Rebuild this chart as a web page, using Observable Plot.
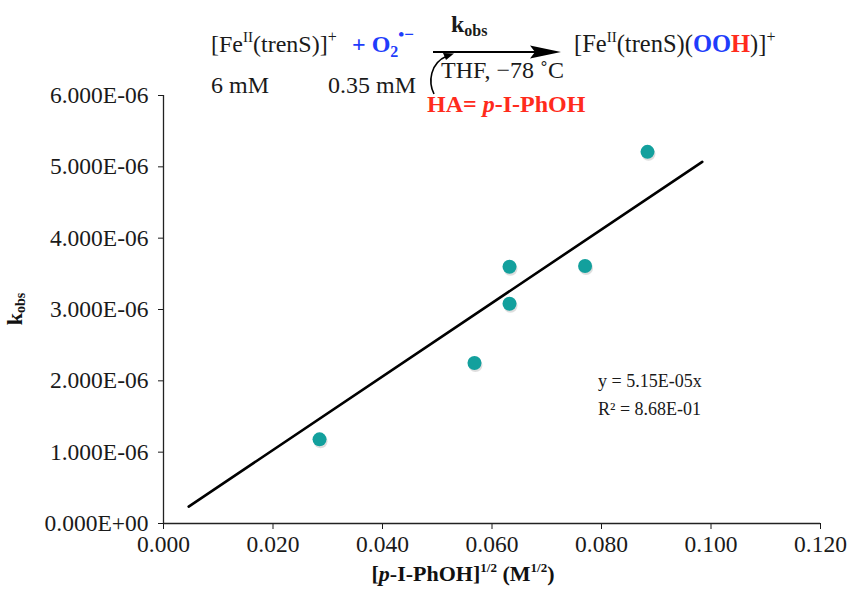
<!DOCTYPE html>
<html>
<head>
<meta charset="utf-8">
<script src="https://cdn.jsdelivr.net/npm/d3@7"></script>
<script src="https://cdn.jsdelivr.net/npm/@observablehq/plot@0.6"></script>
<style>
  html, body { margin: 0; padding: 0; background: #fff; }
  #chart { width: 850px; height: 610px; }
  svg text { font-family: "Liberation Serif", "Times New Roman", serif; }
</style>
</head>
<body>
<div id="chart"></div>
<script>
// ---- data ----
const sqrtConc = [0.0285, 0.0568, 0.0632, 0.0632, 0.0770, 0.0884];   // [p-I-PhOH]^1/2 (M^1/2)
const kObs     = [1.18e-6, 2.25e-6, 3.60e-6, 3.08e-6, 3.61e-6, 5.21e-6];
const trendX   = [0.0046, 0.0984];
const trendY   = [2.37e-7, 5.07e-6];
const xTicks   = [0, 0.02, 0.04, 0.06, 0.08, 0.10, 0.12];
const yTicks   = [0, 1e-6, 2e-6, 3e-6, 4e-6, 5e-6, 6e-6];
const eqLines  = ["y = 5.15E-05x", "R\u00B2 = 8.68E-01"];

const points = sqrtConc.map((x, i) => ({x, y: kObs[i]}));
const trend  = trendX.map((x, i) => ({x, y: trendY[i]}));

function sci(v) {
  if (Math.abs(v) < 1e-20) return "0.000E+00";
  const e = Math.floor(Math.log10(Math.abs(v)) + 1e-9);
  const m = v / Math.pow(10, e);
  return m.toFixed(3) + "E" + (e < 0 ? "-" : "+") + String(Math.abs(e)).padStart(2, "0");
}

const teal = "#13a09d";
const chart = Plot.plot({
  width: 850,
  height: 610,
  marginLeft: 163,
  marginRight: 30,
  marginTop: 95,
  marginBottom: 87,
  style: {fontFamily: "'Liberation Serif', 'Times New Roman', serif", fontSize: "23.5px", color: "#1a1a1a", background: "#fff"},
  x: {domain: [0, 0.12], ticks: xTicks, tickFormat: d3.format(".3f"), tickSize: 6, tickPadding: 6, label: null},
  y: {domain: [0, 6e-6], ticks: yTicks, tickFormat: sci, tickSize: 5, tickPadding: 10, label: null},
  marks: [
    Plot.ruleY([0], {stroke: "#222", strokeWidth: 1.3}),
    Plot.ruleX([0], {stroke: "#222", strokeWidth: 1.3}),
    Plot.line(trend, {x: "x", y: "y", stroke: "#000", strokeWidth: 2.6}),
    Plot.dot(points, {x: "x", y: "y", r: 7, fill: "#c8c8c8", fillOpacity: 0.6, dx: 1, dy: 2}),
    Plot.dot(points, {x: "x", y: "y", r: 7, fill: teal})
  ]
});
document.getElementById("chart").appendChild(chart);

// ---- annotations ----
const svg = d3.select(chart);
const blue = "#1f3dfb", red = "#ff2b1c";

// equation
const eq = svg.append("text").attr("text-anchor", "start").attr("font-size", 18).attr("fill", "#1a1a1a");
eqLines.forEach((s, i) => eq.append("tspan").attr("x", 598).attr("y", 387 + i * 28).text(s));

// axis titles
const xt = svg.append("text").attr("x", 463).attr("y", 581).attr("text-anchor", "middle")
  .attr("font-size", 22).attr("font-weight", "bold").attr("fill", "#111");
xt.append("tspan").text("[");
xt.append("tspan").attr("font-style", "italic").text("p");
xt.append("tspan").text("-I-PhOH]");
xt.append("tspan").attr("font-size", 13).attr("dy", -9).text("1/2");
xt.append("tspan").attr("dy", 9).text(" (M");
xt.append("tspan").attr("font-size", 13).attr("dy", -9).text("1/2");
xt.append("tspan").attr("dy", 9).text(")");

const yt = svg.append("text").attr("transform", "translate(22,309) rotate(-90)").attr("text-anchor", "middle")
  .attr("font-size", 22).attr("font-weight", "bold").attr("fill", "#111");
yt.append("tspan").text("k");
yt.append("tspan").attr("font-size", 14).attr("dy", 3).text("obs");

// reaction scheme
const S = svg.append("g").attr("text-anchor", "start").attr("font-size", 24).attr("fill", "#1a1a1a");
const r1 = S.append("text").attr("x", 211).attr("y", 52);
r1.append("tspan").text("[Fe");
r1.append("tspan").attr("font-size", 15).attr("dy", -10).text("II");
r1.append("tspan").attr("dy", 10).text("(trenS)]");
r1.append("tspan").attr("font-size", 16).attr("dy", -10).text("+");

const r2 = S.append("text").attr("x", 352).attr("y", 52).attr("fill", blue).attr("font-weight", "bold").attr("font-size", 24);
r2.append("tspan").text("+ O");
r2.append("tspan").attr("font-size", 16).attr("dy", 5).text("2");
r2.append("tspan").attr("font-size", 17).attr("dy", -17).text("\u2022\u2212");

const k = S.append("text").attr("x", 451).attr("y", 32).attr("font-weight", "bold").attr("font-size", 24);
k.append("tspan").text("k");
k.append("tspan").attr("font-size", 16).attr("dy", 4).text("obs");

S.append("line").attr("x1", 433).attr("y1", 52).attr("x2", 540).attr("y2", 52).attr("stroke", "#000").attr("stroke-width", 2);
S.append("path").attr("d", "M530,45.5 L561,52 L530,58.5 L535,52 Z").attr("fill", "#000");

S.append("path").attr("d", "M434,94 C428,82 430,63 447,56").attr("fill", "none").attr("stroke", "#000").attr("stroke-width", 1.6);
S.append("path").attr("d", "M454,53.5 L443,53 L446,60 Z").attr("fill", "#000");

S.append("text").attr("x", 441).attr("y", 78).text("THF, \u221278 \u02DAC");

const r3 = S.append("text").attr("x", 574).attr("y", 52).attr("font-size", 24.5);
r3.append("tspan").text("[Fe");
r3.append("tspan").attr("font-size", 15).attr("dy", -10).text("II");
r3.append("tspan").attr("dy", 10).text("(trenS)(");
r3.append("tspan").attr("fill", blue).attr("font-weight", "bold").text("OO");
r3.append("tspan").attr("fill", red).attr("font-weight", "bold").text("H");
r3.append("tspan").text(")]");
r3.append("tspan").attr("font-size", 16).attr("dy", -10).text("+");

S.append("text").attr("x", 211).attr("y", 93).text("6 mM");
S.append("text").attr("x", 328).attr("y", 93).text("0.35 mM");

const ha = S.append("text").attr("x", 427).attr("y", 112).attr("fill", red).attr("font-weight", "bold").attr("font-size", 24);
ha.append("tspan").text("HA= ");
ha.append("tspan").attr("font-style", "italic").text("p");
ha.append("tspan").text("-I-PhOH");
</script>
</body>
</html>
